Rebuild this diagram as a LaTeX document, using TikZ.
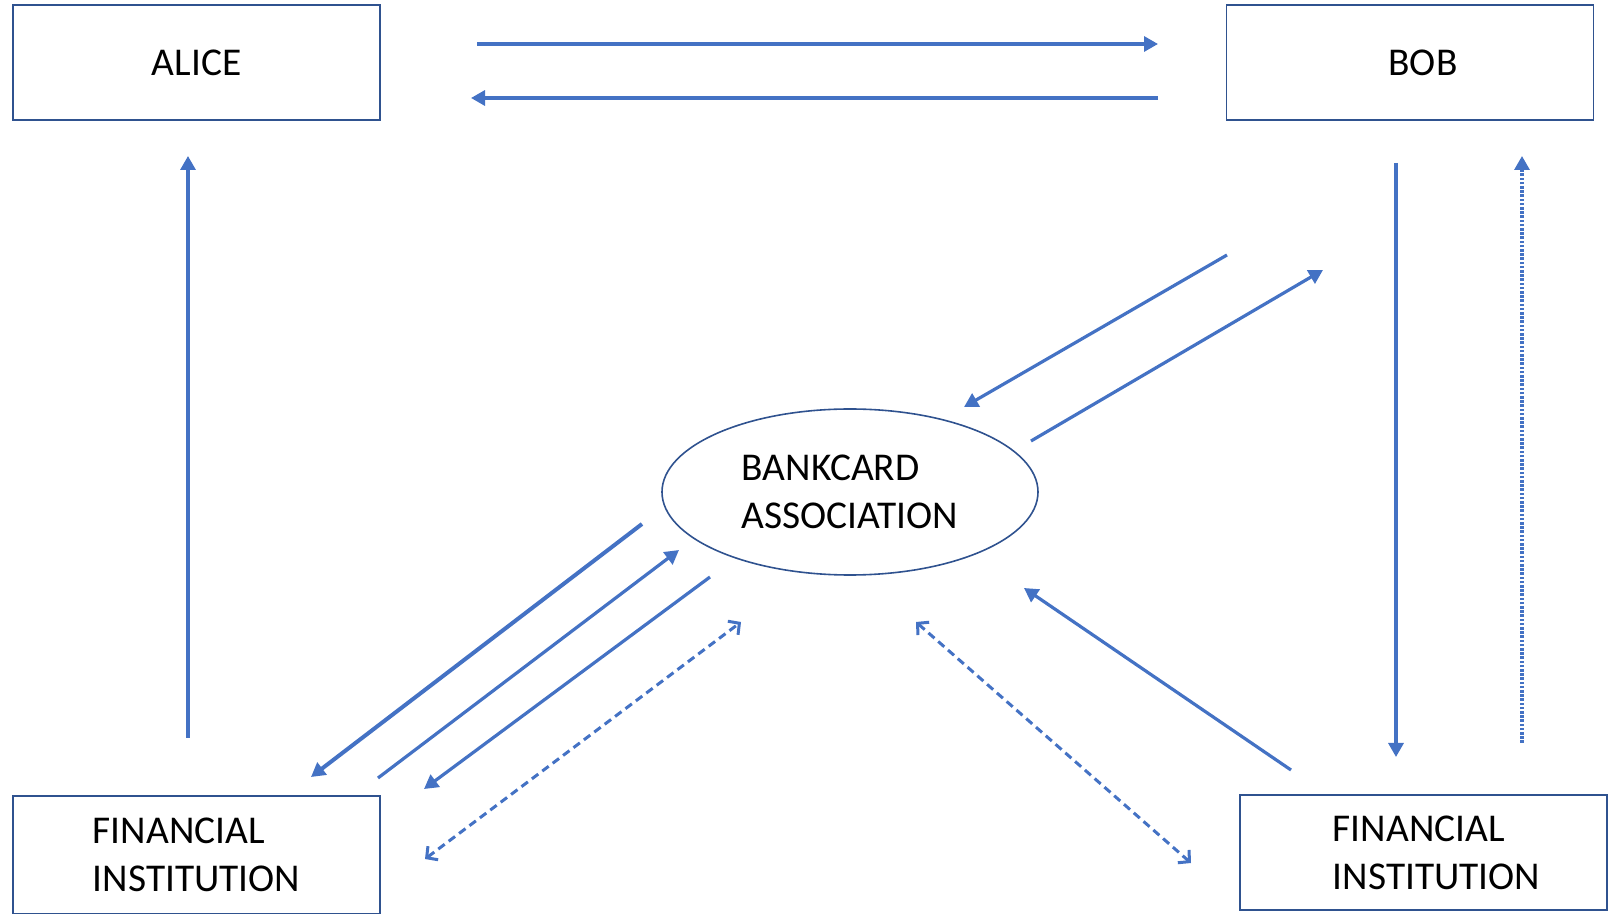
\documentclass[tikz,border=0pt]{standalone}
\usepackage{fontspec}
\setmainfont{Carlito}
\usetikzlibrary{arrows.meta, shapes.geometric}
\definecolor{C1}{HTML}{4472C4}
\definecolor{C2}{HTML}{2F528F}

\begin{document}
\begin{tikzpicture}[
	x=0.5pt, y=-0.5pt,
	party/.style = {draw=C2, line width=0.9pt, rectangle, align=left, minimum width=183.5pt, minimum height=57.5pt, inner sep=0pt, font=\fontsize{19.7}{24}\selectfont},
	assoc/.style = {draw=C2, line width=0.8pt, ellipse, align=left, minimum width=188pt, minimum height=83pt, inner sep=0pt, font=\fontsize{19.7}{24}\selectfont},
	flow/.style = {draw=C1, line width=1.6pt, -{Triangle[length=7pt, width=7.5pt]}},
	heavyflow/.style = {flow, line width=2pt},
	dotflow/.style = {flow, dash pattern=on 1.3pt off 0.8pt},
	dashflow/.style = {draw=C1, line width=1.5pt, dash pattern=on 4pt off 2.5pt, {Straight Barb[length=4pt, width=8.5pt]}-{Straight Barb[length=4pt, width=8.5pt]}}
]
  \useasboundingbox (0, 0) rectangle (1614, 914);

  % Define parties
  \node[party] at (196.5, 62.5) (alice) {ALICE};
  \node[party] at (1410, 62.5) (bob) {\hspace*{13pt}BOB};
  \node[party, minimum height=59pt] at (196.5, 855) (fil) {FINANCIAL\\INSTITUTION};
  \node[party] at (1423.5, 852.5) (fir) {\hspace*{13pt}FINANCIAL\\\hspace*{13pt}INSTITUTION};
  \node[assoc] at (850, 492) (bank) {BANKCARD\\ASSOCIATION};

  % Arrow ends
  \coordinate (ab1) at (477, 44);   \coordinate (ab2) at (1158, 44);
  \coordinate (ba1) at (1158, 98);  \coordinate (ba2) at (471, 98);
  \coordinate (fa1) at (188, 738);  \coordinate (fa2) at (188, 156);
  \coordinate (bf1) at (1396, 163); \coordinate (bf2) at (1396, 757);
  \coordinate (fb1) at (1522, 743); \coordinate (fb2) at (1522, 156);
  \coordinate (bk1) at (1227, 255); \coordinate (bk2) at (964, 407);
  \coordinate (kb1) at (1031, 441); \coordinate (kb2) at (1323, 270);
  \coordinate (kl1) at (642, 524);  \coordinate (kl2) at (311, 777);
  \coordinate (lk1) at (378, 778);  \coordinate (lk2) at (679, 550);
  \coordinate (kl3) at (710, 577);  \coordinate (kl4) at (424, 789);
  \coordinate (dl1) at (425, 859);  \coordinate (dl2) at (741, 622);
  \coordinate (rk1) at (1291, 770); \coordinate (rk2) at (1024, 588);
  \coordinate (dr1) at (916, 622);  \coordinate (dr2) at (1191, 863);

  % Arrows
  \draw[flow] (ab1) -- (ab2);
  \draw[flow] (ba1) -- (ba2);
  \draw[flow] (fa1) -- (fa2);
  \draw[flow] (bf1) -- (bf2);
  \draw[dotflow] (fb1) -- (fb2);
  \draw[flow] (bk1) -- (bk2);
  \draw[flow] (kb1) -- (kb2);
  \draw[heavyflow] (kl1) -- (kl2);
  \draw[flow] (lk1) -- (lk2);
  \draw[flow] (kl3) -- (kl4);
  \draw[dashflow] (dl1) -- (dl2);
  \draw[flow] (rk1) -- (rk2);
  \draw[dashflow] (dr1) -- (dr2);
\end{tikzpicture}
\end{document}
